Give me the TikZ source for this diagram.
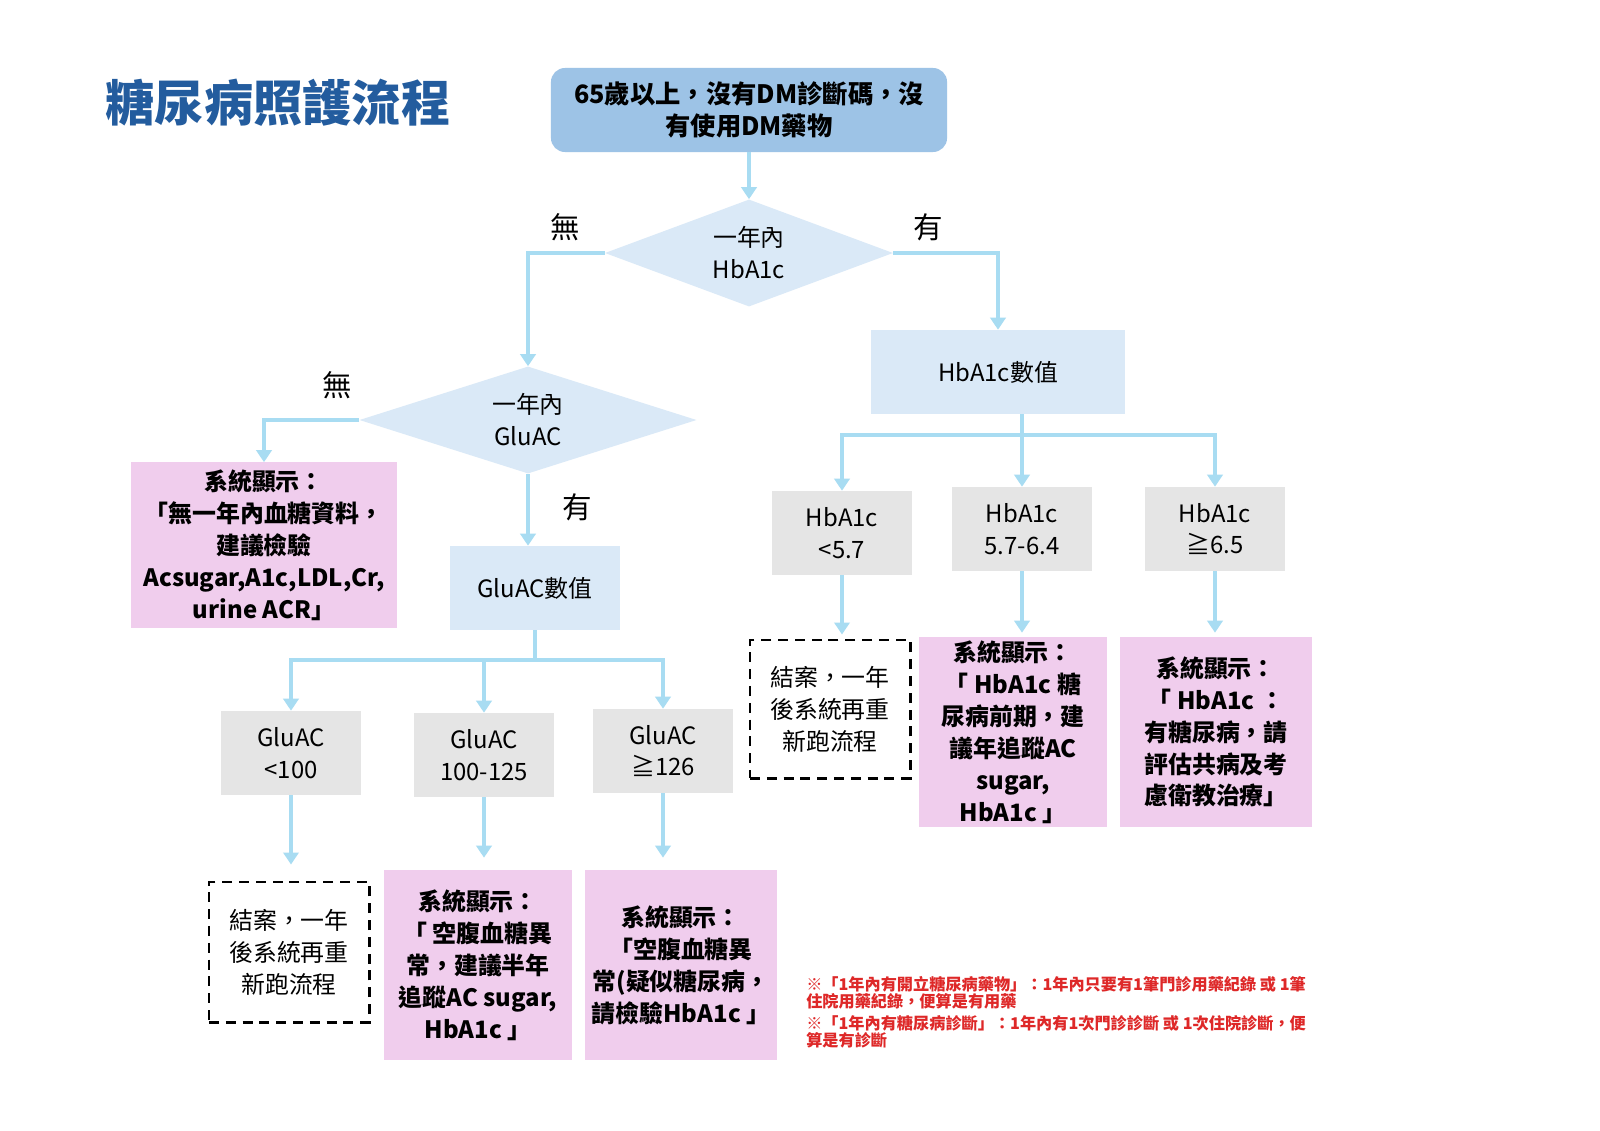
\documentclass[tikz,border=0pt]{standalone}
\usepackage{fontspec}
\setmainfont{Noto Sans CJK TC}
\usetikzlibrary{shapes.geometric,arrows.meta}

\definecolor{titleblue}{RGB}{35,92,158}
\definecolor{startblue}{RGB}{157,195,230}
\definecolor{paleblue}{RGB}{218,233,247}
\definecolor{linkblue}{RGB}{168,220,242}
\definecolor{boxgray}{RGB}{229,229,229}
\definecolor{boxpink}{RGB}{240,205,237}
\definecolor{notered}{RGB}{222,40,40}

\begin{document}
\begin{tikzpicture}[x=0.025cm,y=-0.025cm,
	box/.style={inner sep=0pt,align=center,font=\fontsize{17}{22.7}\selectfont},
	startbox/.style={box,fill=startblue,rounded corners=0.35cm,font=\bfseries\fontsize{18}{22.7}\selectfont},
	ask/.style={box,diamond,aspect=2.7,fill=paleblue},
	valuebox/.style={box,fill=paleblue},
	rangebox/.style={box,fill=boxgray,minimum width=3.5cm,minimum height=2.1cm},
	showbox/.style={box,fill=boxpink,font=\bfseries\fontsize{17}{22.7}\selectfont},
	endbox/.style={box,draw=black,line width=2.1pt,dash pattern=on 0.25cm off 0.17cm},
	answer/.style={inner sep=0pt,font=\fontsize{21}{24}\selectfont},
	link/.style={draw=linkblue,line width=3.5pt},
	arrowlink/.style={link,-{Triangle[length=0.3cm,width=0.38cm]}}
]
	\fill[white] (0,0) rectangle (1600,1131);
	\useasboundingbox (0,0) rectangle (1600,1131);

	\node (title) at (278,103) [inner sep=0pt,text=titleblue,font=\bfseries\fontsize{35}{40}\selectfont] {糖尿病照護流程};

	% top and the two questions
	\node (start) at (749,110) [startbox,minimum width=9.9cm,minimum height=2.1cm] {65歲以上，沒有DM診斷碼，沒\\有使用DM藥物};
	\node (askhb) at (749,253) [ask,minimum width=7.2cm,minimum height=2.675cm] {一年內\\HbA1c};
	\node (askglu) at (528,420) [ask,minimum width=8.425cm,minimum height=2.675cm] {一年內\\GluAC};
	\node (noa) at (565,227) [answer] {無};
	\node (yesa) at (928,227) [answer] {有};
	\node (nob) at (337,385) [answer] {無};
	\node (yesb) at (577,507) [answer] {有};

	% left side
	\node (nodata) at (264,545) [showbox,minimum width=6.65cm,minimum height=4.125cm] {系統顯示：\\「無一年內血糖資料，\\建議檢驗\\Acsugar,A1c,LDL,Cr,\\urine ACR」};
	\node (gluval) at (535,588) [valuebox,minimum width=4.25cm,minimum height=2.1cm] {GluAC數值};
	\coordinate (glusplit) at (535,660);
	\node (glulow) at (291,753) [rangebox] {GluAC\\<100};
	\node (glumid) at (484,755) [rangebox] {GluAC\\100-125};
	\node (gluhigh) at (663,751) [rangebox] {GluAC\\≧126};
	\node (gluend) at (289,952) [endbox,minimum width=4cm,minimum height=3.5cm] {結案，一年\\後系統再重\\新跑流程};
	\node (glushowmid) at (478,965) [showbox,minimum width=4.675cm,minimum height=4.75cm] {系統顯示：\\「 空腹血糖異\\常，建議半年\\追蹤AC sugar,\\HbA1c 」};
	\node (glushowhigh) at (681,965) [showbox,minimum width=4.8cm,minimum height=4.75cm] {系統顯示：\\「空腹血糖異\\常(疑似糖尿病，\\請檢驗HbA1c 」};

	% right side
	\node (hbval) at (998,372) [valuebox,minimum width=6.35cm,minimum height=2.1cm] {HbA1c數值};
	\coordinate (hbsplit) at (1022,435);
	\node (hblow) at (842,533) [rangebox] {HbA1c\\<5.7};
	\node (hbmid) at (1022,529) [rangebox] {HbA1c\\5.7-6.4};
	\node (hbhigh) at (1215,529) [rangebox] {HbA1c\\≧6.5};
	\node (hbend) at (830,709) [endbox,minimum width=4cm,minimum height=3.45cm] {結案，一年\\後系統再重\\新跑流程};
	\node (hbshowmid) at (1013,732) [showbox,minimum width=4.675cm,minimum height=4.75cm] {系統顯示：\\「 HbA1c 糖\\尿病前期，建\\議年追蹤AC\\sugar,\\HbA1c 」};
	\node (hbshowhigh) at (1216,732) [showbox,minimum width=4.775cm,minimum height=4.75cm] {系統顯示：\\「 HbA1c ：\\有糖尿病，請\\評估共病及考\\慮衛教治療」};

	\node (notes) at (806,976) [anchor=north west,inner sep=0pt,align=left,text=notered,font=\bfseries\fontsize{11.5}{12}\selectfont] {※「1年內有開立糖尿病藥物」：1年內只要有1筆門診用藥紀錄 或 1筆\\住院用藥紀錄，便算是有用藥\\[4pt]※「1年內有糖尿病診斷」：1年內有1次門診診斷 或 1次住院診斷，便\\算是有診斷};

	% connectors
	\draw[arrowlink] (start) -- (askhb);
	\draw[arrowlink] (askhb.west) -| (askglu.north);
	\draw[arrowlink] (askhb.east) -| (hbval.north);
	\draw[arrowlink] (askglu.west) -| (nodata.north);
	\draw[arrowlink] (askglu.south) -- (askglu.south |- gluval.north);
	\draw[link] (gluval.south) -- (glusplit);
	\foreach \n in {glulow,glumid,gluhigh}
		\draw[arrowlink] (glusplit) -| (\n.north);
	\draw[arrowlink,shorten >=0.4cm] (glulow.south) -- (glulow.south |- gluend.north);
	\draw[arrowlink,shorten >=0.3cm] (glumid.south) -- (glumid.south |- glushowmid.north);
	\draw[arrowlink,shorten >=0.3cm] (gluhigh.south) -- (gluhigh.south |- glushowhigh.north);
	\draw[link] (hbval.south -| hbsplit) -- (hbsplit);
	\foreach \n in {hblow,hbmid,hbhigh}
		\draw[arrowlink] (hbsplit) -| (\n.north);
	\draw[arrowlink,shorten >=0.1cm] (hblow.south) -- (hblow.south |- hbend.north);
	\draw[arrowlink,shorten >=0.1cm] (hbmid.south) -- (hbmid.south |- hbshowmid.north);
	\draw[arrowlink,shorten >=0.1cm] (hbhigh.south) -- (hbhigh.south |- hbshowhigh.north);
\end{tikzpicture}
\end{document}
